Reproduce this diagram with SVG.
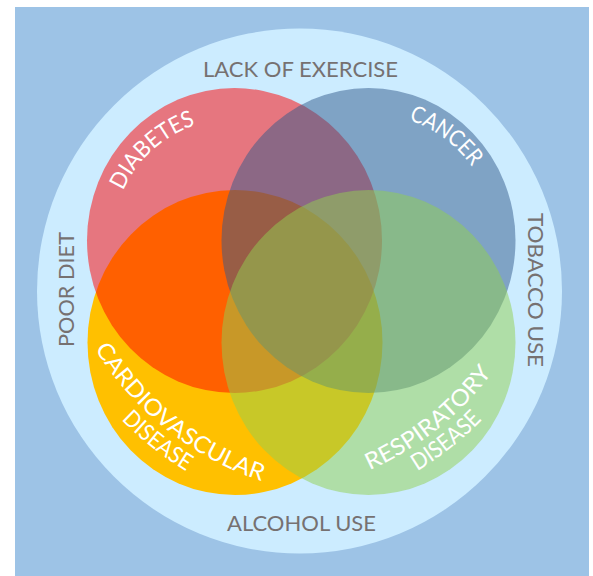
<svg xmlns="http://www.w3.org/2000/svg" width="593" height="576" viewBox="0 0 593 576">
  <style>
    .factor { font-family: Lato, "Open Sans", sans-serif; font-size: 22px; fill: #767171; }
    .disease { font-family: Lato, "Open Sans", sans-serif; font-size: 23px; fill: #ffffff; }
  </style>
  <defs>
    <!-- baselines for the curved disease labels -->
    <path id="arc-diabetes" d="M112.5,240.5 A122,122 0 0 1 234.5,118.5"/>
    <path id="arc-cancer" d="M368.5,113.5 A127,127 0 0 1 495.5,240.5"/>
    <path id="arc-cardio-1" d="M67.8,292.4 A311,311 0 0 0 332.9,495.8"/>
    <path id="arc-cardio-2" d="M46.1,300.2 A334,334 0 0 0 330.9,518.7"/>
    <path id="arc-resp-1" d="M270.6,495.8 A311,311 0 0 0 535.7,292.4"/>
    <path id="arc-resp-2" d="M272.6,518.7 A334,334 0 0 0 557.4,300.2"/>
  </defs>

  <!-- backdrop -->
  <rect x="15" y="7" width="574" height="569" fill="#9dc3e6"/>

  <!-- risk-factor ring -->
  <g id="risk-factors">
    <circle cx="299.5" cy="291" r="262.5" fill="#ccecff"/>
  </g>

  <!-- disease circles, bottom to top -->
  <g id="cardiovascular">
    <ellipse cx="235" cy="342.5" rx="147.5" ry="152.5" fill="#ffc000"/>
    <text class="disease"><textPath href="#arc-cardio-1" startOffset="48.5%" text-anchor="middle" textLength="217" lengthAdjust="spacingAndGlyphs">CARDIOVASCULAR</textPath></text>
    <text class="disease"><textPath href="#arc-cardio-2" startOffset="48.5%" text-anchor="middle" textLength="83" lengthAdjust="spacingAndGlyphs">DISEASE</textPath></text>
  </g>
  <g id="diabetes">
    <ellipse cx="234.5" cy="240.5" rx="147.5" ry="152.5" fill="#ff0000" fill-opacity="0.5"/>
    <text class="disease"><textPath href="#arc-diabetes" startOffset="53%" text-anchor="middle" textLength="101" lengthAdjust="spacingAndGlyphs">DIABETES</textPath></text>
  </g>
  <g id="cancer">
    <ellipse cx="368.5" cy="240.5" rx="147" ry="152.5" fill="#325a8b" fill-opacity="0.5"/>
    <text class="disease"><textPath href="#arc-cancer" startOffset="40.5%" text-anchor="middle" textLength="80" lengthAdjust="spacingAndGlyphs">CANCER</textPath></text>
  </g>
  <g id="respiratory">
    <ellipse cx="368.5" cy="342.5" rx="147" ry="152.5" fill="#92d050" fill-opacity="0.5"/>
    <text class="disease"><textPath href="#arc-resp-1" startOffset="51.5%" text-anchor="middle" textLength="158" lengthAdjust="spacingAndGlyphs">RESPIRATORY</textPath></text>
    <text class="disease"><textPath href="#arc-resp-2" startOffset="51.5%" text-anchor="middle" textLength="83" lengthAdjust="spacingAndGlyphs">DISEASE</textPath></text>
  </g>

  <!-- risk-factor labels around the ring -->
  <g id="lack-of-exercise">
    <text class="factor" x="300.5" y="77" text-anchor="middle" textLength="195" lengthAdjust="spacingAndGlyphs">LACK OF EXERCISE</text>
  </g>
  <g id="alcohol-use">
    <text class="factor" x="301.5" y="530.5" text-anchor="middle" textLength="149" lengthAdjust="spacingAndGlyphs">ALCOHOL USE</text>
  </g>
  <g id="poor-diet">
    <text class="factor" transform="translate(74,289.5) rotate(-90)" text-anchor="middle" textLength="115" lengthAdjust="spacingAndGlyphs">POOR DIET</text>
  </g>
  <g id="tobacco-use">
    <text class="factor" transform="translate(528,290) rotate(90)" text-anchor="middle" textLength="154" lengthAdjust="spacingAndGlyphs">TOBACCO USE</text>
  </g>
</svg>
